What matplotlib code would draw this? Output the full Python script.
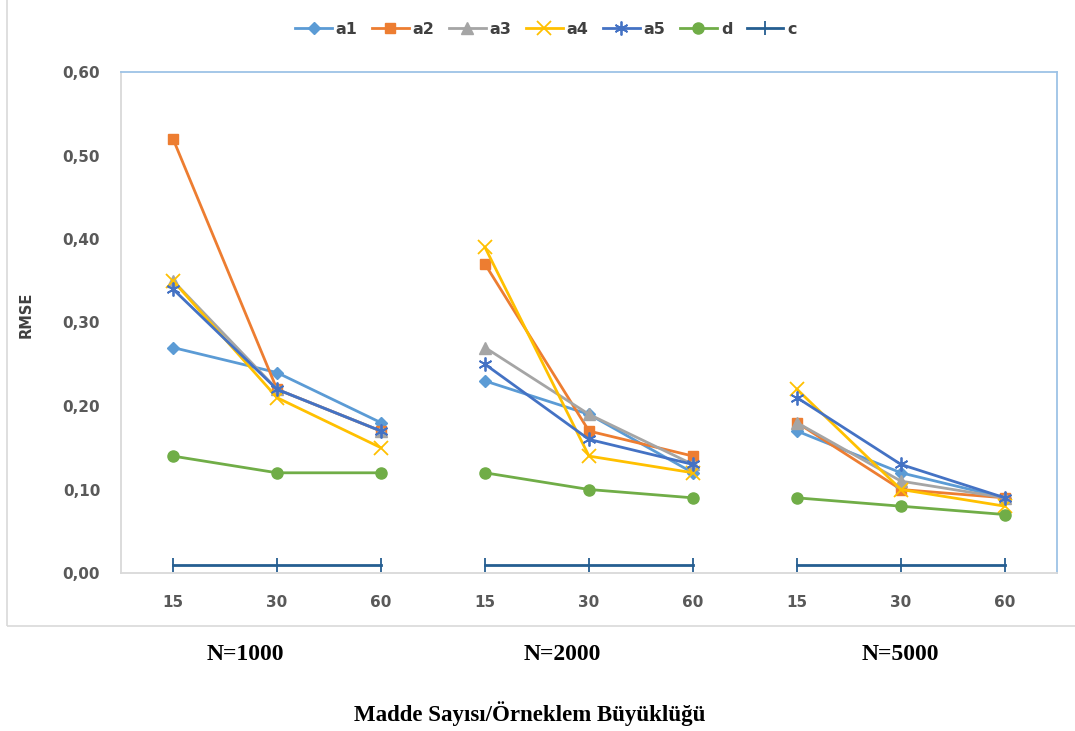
import numpy as np
import matplotlib.pyplot as plt
from matplotlib.patches import Rectangle

# RMSE per series, three item counts (15/30/60) for each sample size
sample_sizes = ["N=1000", "N=2000", "N=5000"]
item_counts = ["15", "30", "60"]

a1 = [[0.27, 0.24, 0.18], [0.23, 0.19, 0.12], [0.17, 0.12, 0.09]]
a2 = [[0.52, 0.22, 0.17], [0.37, 0.17, 0.14], [0.18, 0.10, 0.09]]
a3 = [[0.35, 0.22, 0.17], [0.27, 0.19, 0.13], [0.18, 0.11, 0.09]]
a4 = [[0.35, 0.21, 0.15], [0.39, 0.14, 0.12], [0.22, 0.10, 0.08]]
a5 = [[0.34, 0.22, 0.17], [0.25, 0.16, 0.13], [0.21, 0.13, 0.09]]
d = [[0.14, 0.12, 0.12], [0.12, 0.10, 0.09], [0.09, 0.08, 0.07]]
c = [[0.01, 0.01, 0.01], [0.01, 0.01, 0.01], [0.01, 0.01, 0.01]]

series = [
    ("a1", a1, "#5B9BD5", "D", 6),
    ("a2", a2, "#ED7D31", "s", 7),
    ("a3", a3, "#A5A5A5", "^", 8),
    ("a4", a4, "#FFC000", "x", 10),
    ("a5", a5, "#4472C4", (6, 2, 0), 10),
    ("d", d, "#70AD47", "o", 8),
    ("c", c, "#255E91", "|", 10),
]

fig = plt.figure(figsize=(10.75, 7.31), dpi=100)
# outer chart frame
fig.patches.append(Rectangle((7 / 1075, (731 - 626) / 731), 1.2, 1.2,
                             transform=fig.transFigure, fill=False,
                             edgecolor="#D9D9D9", linewidth=1.2))
ax = fig.add_axes([121 / 1075, (731 - 573) / 731, 936 / 1075, 501 / 731])

n = len(item_counts)
for name, vals, col, mk, ms in series:
    for g, row in enumerate(vals):
        x = np.arange(n) + g * n
        ax.plot(x, row, color=col, linewidth=2, marker=mk, markersize=ms,
                markeredgewidth=1.3 if mk in ("x", "|") or isinstance(mk, tuple) else 1,
                label=name if g == 0 else None)

ax.set_xlim(-0.5, n * len(sample_sizes) - 0.5)
ax.set_ylim(0, 0.6)
ax.set_yticks(np.arange(0, 0.61, 0.1))
ax.set_yticklabels([f"{v:.2f}".replace(".", ",") for v in np.arange(0, 0.61, 0.1)])
ax.set_xticks(np.arange(n * len(sample_sizes)))
ax.set_xticklabels(item_counts * len(sample_sizes))
ax.tick_params(length=0, labelcolor="#595959", labelsize=11)
ax.tick_params(axis="y", pad=15)
ax.tick_params(axis="x", pad=16)
for lab in ax.get_xticklabels() + ax.get_yticklabels():
    lab.set_fontweight("bold")

ax.spines["left"].set_color("#D9D9D9")
ax.spines["bottom"].set_color("#D9D9D9")
ax.spines["top"].set_color("#9DC3E6")
ax.spines["right"].set_color("#9DC3E6")
for s in ax.spines.values():
    s.set_linewidth(1.3)

fig.text(26 / 1075, 1 - 315 / 731, "RMSE", rotation=90, ha="center", va="center",
         fontsize=10.5, fontweight="bold", color="#404040")

for lbl, xc in zip(sample_sizes, [245, 562, 900]):
    fig.text(xc / 1075, 1 - 655 / 731, lbl, ha="center", va="center",
             family="Liberation Serif", fontweight="bold", fontsize=17)
fig.text(530 / 1075, 1 - 714 / 731, "Madde Sayısı/Örneklem Büyüklüğü",
         ha="center", va="center", family="Liberation Serif",
         fontweight="bold", fontsize=16.5)

leg = fig.legend(loc="center", bbox_to_anchor=(546 / 1075, 1 - 29 / 731), ncol=7,
                 frameon=False, handlelength=2.3, columnspacing=0.9,
                 handletextpad=0.25, prop={"size": 11.5, "weight": "bold"})
for t in leg.get_texts():
    t.set_color("#404040")

fig.savefig("out.png", dpi=100)
